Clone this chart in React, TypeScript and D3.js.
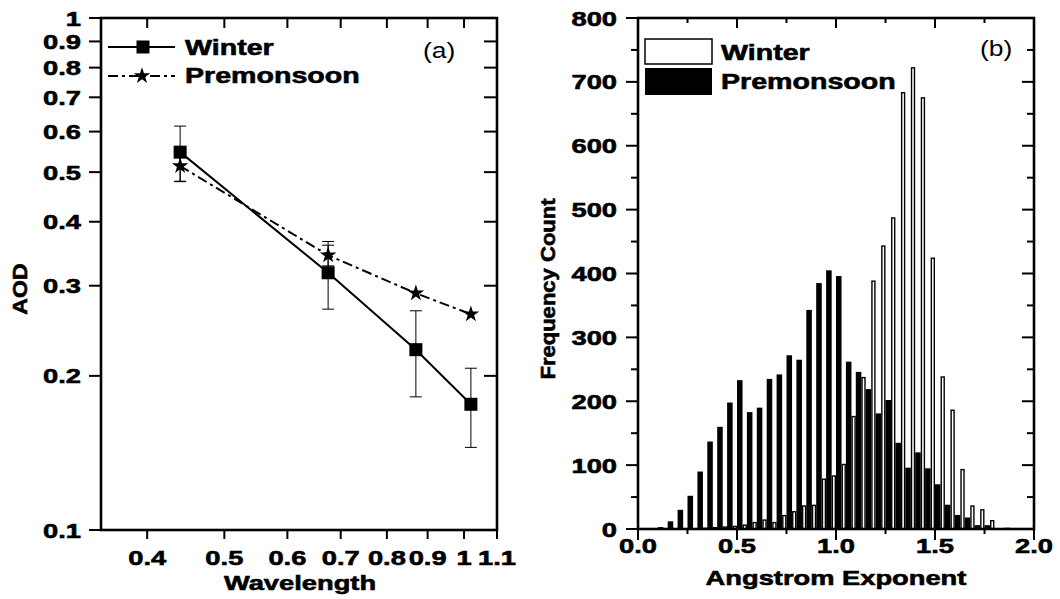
import React from "react";
import * as d3 from "d3";

// ---------- Panel (a) data ----------
const wavelengths = [0.44, 0.675, 0.87, 1.02];
const winterAOD = [0.547, 0.318, 0.225, 0.176];
const winterErr = [0.068, 0.048, 0.043, 0.031];
const premonAOD = [0.514, 0.344, 0.29, 0.264];
const premonErr = [0.034, 0.016, 0, 0];
const xTicksA = [0.4, 0.5, 0.6, 0.7, 0.8, 0.9, 1, 1.1];
const yTicksA = [0.1, 0.2, 0.3, 0.4, 0.5, 0.6, 0.7, 0.8, 0.9, 1];

// ---------- Panel (b) data ----------
const binStarts = [
  0.0, 0.05, 0.1, 0.15, 0.2, 0.25, 0.3, 0.35, 0.4, 0.45, 0.5, 0.55, 0.6, 0.65, 0.7, 0.75, 0.8, 0.85, 0.9,
  0.95, 1.0, 1.05, 1.1, 1.15, 1.2, 1.25, 1.3, 1.35, 1.4, 1.45, 1.5, 1.55, 1.6, 1.65, 1.7, 1.75, 1.8, 1.85,
];
const premonCounts = [
  0, 1, 3, 12, 30, 52, 90, 137, 160, 198, 233, 183, 190, 235, 242, 272, 265, 343, 385,
  405, 396, 262, 246, 219, 181, 202, 135, 96, 120, 95, 70, 38, 22, 18, 6, 6, 0, 2,
];
const winterCounts = [
  0, 0, 0, 0, 0, 0, 1, 2, 3, 4, 6, 10, 14, 10, 21, 27, 36, 37, 78,
  83, 101, 176, 237, 388, 443, 487, 683, 722, 675, 424, 238, 186, 93, 36, 30, 13, 0, 0,
];
const xTicksB = [0, 0.5, 1.0, 1.5, 2.0];
const xMinorB = [0.25, 0.75, 1.25, 1.75];
const yTicksB = [0, 100, 200, 300, 400, 500, 600, 700, 800];
const yMinorB = [50, 150, 250, 350, 450, 550, 650, 750];

const FONT = "'Liberation Sans', Arial, Helvetica, sans-serif";
const SX = 1.3;

function Txt({ x, y, anchor = "start", size = 21, bold = true, rotate = false, sx = SX, children }: any) {
  return (
    <text
      transform={`translate(${x},${y})${rotate ? " rotate(-90)" : ""} scale(${sx},1)`}
      textAnchor={anchor}
      fontFamily={FONT}
      fontWeight={bold ? 700 : 400}
      fontSize={size}
      fill="#000"
      stroke={bold ? "#000" : "none"}
      strokeWidth={bold ? 0.6 : 0}
    >
      {children}
    </text>
  );
}

export default function App() {
  // Panel (a) scales
  const xA = d3.scaleLog().domain([0.35, 1.1]).range([101, 497]);
  const yA = d3.scaleLog().domain([0.1, 1]).range([530, 18]);
  const lineA = d3
    .line<number>()
    .x((_, i) => xA(wavelengths[i]))
    .y((d) => yA(d));
  const starPath = d3.symbol().type(d3.symbolStar).size(85)() as string;

  // Panel (b) scales
  const xB = d3.scaleLinear().domain([0, 2]).range([638, 1034]);
  const yB = d3.scaleLinear().domain([0, 800]).range([529, 18]);
  const blackW = 0.028;

  const axisW = 2.6;

  return (
    <svg width={1060} height={599} style={{ position: "absolute", left: 0, top: 0, background: "#fff" }}>
      <rect x={0} y={0} width={1060} height={599} fill="#fff" />

      {/* ================= Panel (a) ================= */}
      {wavelengths.map((w, i) => {
        const cx = xA(w);
        const items = [
          [winterAOD[i], winterErr[i]],
          [premonAOD[i], premonErr[i]],
        ];
        return items.map(([v, e], j) =>
          e > 0 ? (
            <g key={`e${i}-${j}`} stroke="#000" strokeWidth={1}>
              <line x1={cx} x2={cx} y1={yA(v + e)} y2={yA(v - e)} />
              <line x1={cx - 6} x2={cx + 6} y1={yA(v + e)} y2={yA(v + e)} />
              <line x1={cx - 6} x2={cx + 6} y1={yA(v - e)} y2={yA(v - e)} />
            </g>
          ) : null
        );
      })}
      <path d={lineA(premonAOD) as string} fill="none" stroke="#000" strokeWidth={2} strokeDasharray="10,4,3,4" />
      <path d={lineA(winterAOD) as string} fill="none" stroke="#000" strokeWidth={2} />
      {wavelengths.map((w, i) => (
        <rect key={`sq${i}`} x={xA(w) - 6.5} y={yA(winterAOD[i]) - 6.5} width={13} height={13} fill="#000" />
      ))}
      {wavelengths.map((w, i) => (
        <path key={`st${i}`} d={starPath} transform={`translate(${xA(w)},${yA(premonAOD[i])})`} fill="#000" />
      ))}

      <rect x={101} y={18} width={396} height={512} fill="none" stroke="#000" strokeWidth={axisW} />
      {yTicksA.map((t) => (
        <g key={`ya${t}`} stroke="#000" strokeWidth={2}>
          <line x1={89} x2={101} y1={yA(t)} y2={yA(t)} />
          <line x1={484} x2={497} y1={yA(t)} y2={yA(t)} />
        </g>
      ))}
      {xTicksA.map((t) => (
        <g key={`xa${t}`} stroke="#000" strokeWidth={2}>
          <line x1={xA(t)} x2={xA(t)} y1={530} y2={539} />
          <line x1={xA(t)} x2={xA(t)} y1={18} y2={28} />
        </g>
      ))}
      {yTicksA.map((t) => (
        <Txt key={`yla${t}`} x={81} y={yA(t) + 7.5} anchor="end">
          {String(t)}
        </Txt>
      ))}
      {xTicksA.map((t) => (
        <Txt key={`xla${t}`} x={xA(t)} y={565} anchor="middle">
          {String(t)}
        </Txt>
      ))}
      <Txt x={300} y={590} anchor="middle">
        Wavelength
      </Txt>
      <Txt x={27} y={289} anchor="middle" rotate sx={1.1}>
        AOD
      </Txt>
      <line x1={108} x2={175} y1={47} y2={47} stroke="#000" strokeWidth={2} />
      <rect x={136.5} y={40.5} width={13} height={13} fill="#000" />
      <line x1={108} x2={175} y1={76} y2={76} stroke="#000" strokeWidth={2} strokeDasharray="10,4,3,4" />
      <path d={starPath} transform="translate(142,76)" fill="#000" />
      <Txt x={185} y={55} size={22}>
        Winter
      </Txt>
      <Txt x={185} y={83} size={22}>
        Premonsoon
      </Txt>
      <Txt x={423} y={58} size={22} bold={false} sx={1.2}>
        (a)
      </Txt>

      {/* ================= Panel (b) ================= */}
      {binStarts.map((b, i) =>
        premonCounts[i] > 0 ? (
          <rect
            key={`pb${i}`}
            x={xB(b)}
            y={yB(premonCounts[i])}
            width={xB(b + blackW) - xB(b)}
            height={yB(0) - yB(premonCounts[i])}
            fill="#000"
          />
        ) : null
      )}
      {binStarts.map((b, i) =>
        winterCounts[i] > 0 ? (
          <rect
            key={`wb${i}`}
            x={xB(b + blackW) + 0.7}
            y={yB(winterCounts[i])}
            width={xB(b + 0.05) - xB(b + blackW) - 1.4}
            height={yB(0) - yB(winterCounts[i])}
            fill="#fff"
            stroke="#000"
            strokeWidth={1.4}
          />
        ) : null
      )}
      <rect x={638} y={18} width={396} height={511} fill="none" stroke="#000" strokeWidth={axisW} />
      {yTicksB.map((t) => (
        <g key={`yb${t}`} stroke="#000" strokeWidth={2}>
          <line x1={626} x2={638} y1={yB(t)} y2={yB(t)} />
          <line x1={1022} x2={1034} y1={yB(t)} y2={yB(t)} />
        </g>
      ))}
      {yMinorB.map((t) => (
        <g key={`ybm${t}`} stroke="#000" strokeWidth={2}>
          <line x1={631} x2={638} y1={yB(t)} y2={yB(t)} />
          <line x1={1027} x2={1034} y1={yB(t)} y2={yB(t)} />
        </g>
      ))}
      {xTicksB.map((t) => (
        <g key={`xb${t}`} stroke="#000" strokeWidth={2}>
          <line x1={xB(t)} x2={xB(t)} y1={529} y2={540} />
          <line x1={xB(t)} x2={xB(t)} y1={18} y2={28} />
        </g>
      ))}
      {xMinorB.map((t) => (
        <g key={`xbm${t}`} stroke="#000" strokeWidth={2}>
          <line x1={xB(t)} x2={xB(t)} y1={529} y2={534} />
          <line x1={xB(t)} x2={xB(t)} y1={18} y2={23} />
        </g>
      ))}
      {yTicksB.map((t) => (
        <Txt key={`ylb${t}`} x={617} y={yB(t) + 7.5} anchor="end">
          {String(t)}
        </Txt>
      ))}
      {xTicksB.map((t) => (
        <Txt key={`xlb${t}`} x={xB(t)} y={553} anchor="middle">
          {t.toFixed(1)}
        </Txt>
      ))}
      <Txt x={836} y={585} anchor="middle">
        Angstrom Exponent
      </Txt>
      <Txt x={555} y={289} anchor="middle" rotate sx={1.05}>
        Frequency Count
      </Txt>
      <rect x={645} y={39} width={67} height={25} fill="#fff" stroke="#000" strokeWidth={1.5} />
      <rect x={645} y={68} width={67} height={27} fill="#000" />
      <Txt x={721} y={60} size={22}>
        Winter
      </Txt>
      <Txt x={721} y={89} size={22}>
        Premonsoon
      </Txt>
      <Txt x={980} y={56} size={22} bold={false} sx={1.2}>
        (b)
      </Txt>
    </svg>
  );
}
